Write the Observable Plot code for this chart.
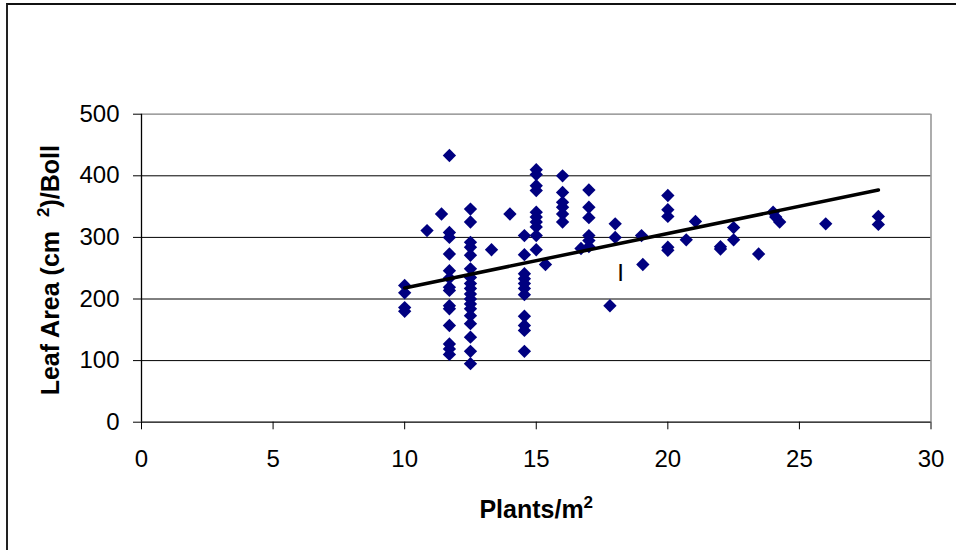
<!DOCTYPE html>
<html>
<head>
<meta charset="utf-8">
<script src="https://cdn.jsdelivr.net/npm/d3@7"></script>
<script src="https://cdn.jsdelivr.net/npm/@observablehq/plot@0.6"></script>
<style>
  html, body { margin: 0; padding: 0; background: #fff; }
  #wrap { position: relative; width: 956px; height: 550px; overflow: hidden; }
  #frame { position: absolute; left: 6px; top: 3px; width: 1000px; height: 600px;
           border-top: 2px solid #111; border-left: 2px solid #222; pointer-events: none; }
</style>
</head>
<body>
<div id="wrap"><div id="frame"></div></div>
<script>
// Plant density (plants/m²) for each observation
const plantDensity = [
  10, 10, 10, 10,
  10.85,
  11.4,
  11.7, 11.7, 11.7, 11.7, 11.7, 11.7, 11.7, 11.7, 11.7, 11.7, 11.7, 11.7, 11.7, 11.7,
  12.5, 12.5, 12.5, 12.5, 12.5, 12.5, 12.5, 12.5, 12.5, 12.5, 12.5, 12.5, 12.5, 12.5, 12.5, 12.5, 12.5, 12.5,
  13.3,
  14.0,
  14.55, 14.55, 14.55, 14.55, 14.55, 14.55, 14.55, 14.55, 14.55, 14.55, 14.55,
  15, 15, 15, 15, 15, 15, 15, 15, 15, 15,
  15.35,
  16, 16, 16, 16, 16, 16,
  16.7,
  17, 17, 17, 17, 17, 17,
  17.8,
  18, 18,
  19.0,
  19.05,
  20, 20, 20, 20, 20,
  20.7,
  21.05,
  22, 22,
  22.5, 22.5,
  23.45,
  24.0,
  24.1,
  24.25,
  26,
  28, 28
];
// Leaf area per boll (cm²) for each observation
const leafArea = [
  222, 210, 186, 180,
  311,
  338,
  433, 308, 300, 273, 246, 234, 219, 214, 189, 184, 157, 127, 119, 110,
  346, 325, 292, 284, 271, 249, 235, 225, 217, 208, 200, 192, 184, 173, 160, 138, 115, 95,
  280,
  338,
  303, 272, 241, 233, 225, 217, 207, 172, 157, 149, 115,
  410, 402, 384, 376, 341, 333, 325, 317, 303, 280,
  256,
  400, 373, 357, 349, 338, 325,
  282,
  377, 349, 332, 303, 295, 285,
  189,
  322, 300,
  303,
  256,
  368, 345, 334, 284, 279,
  296,
  326,
  285, 281,
  316, 296,
  273,
  341,
  333,
  325,
  322,
  334, 321
];
// Linear trendline endpoints
const trendX = [10, 28];
const trendY = [218, 377];
// Stray annotation in the plot area
const noteX = [18.2];
const noteY = [230];
const noteText = ["I"];
// Axis ticks
const xTicks = [0, 5, 10, 15, 20, 25, 30];
const yTicks = [0, 100, 200, 300, 400, 500];
const gridBlack = [100, 200, 300, 400];
const gridGray = [500];
// Axis titles: [before superscript, superscript, after superscript]
const xTitleParts = ["Plants/m", "2", ""];
const yTitleParts = ["Leaf Area (cm  ", "2", ")/Boll"];

const points = plantDensity.map((x, i) => ({x, y: leafArea[i]}));
const trend = trendX.map((x, i) => ({x, y: trendY[i]}));
const notes = noteX.map((x, i) => ({x, y: noteY[i], t: noteText[i]}));

const font = "'Liberation Sans', Arial, Helvetica, sans-serif";

const chart = Plot.plot({
  width: 956,
  height: 550,
  marginLeft: 141,
  marginRight: 25.5,
  marginTop: 113.7,
  marginBottom: 128.3,
  style: {fontFamily: font, color: "#000", background: "transparent", overflow: "visible"},
  x: {domain: [0, 30]},
  y: {domain: [0, 500]},
  marks: [
    Plot.ruleY(gridBlack, {stroke: "#000", strokeWidth: 1}),
    Plot.ruleY(gridGray, {stroke: "#808080", strokeWidth: 1.3}),
    Plot.ruleX([30], {stroke: "#808080", strokeWidth: 1.3}),
    Plot.ruleX([0], {stroke: "#000", strokeWidth: 1.3}),
    Plot.ruleY([0], {stroke: "#000", strokeWidth: 1.3}),
    Plot.axisY({ticks: yTicks, tickSize: 8, tickPadding: 14, fontSize: 24, label: null, tickFormat: d => String(d), stroke: "#000"}),
    Plot.axisX({ticks: xTicks, tickSize: 7.6, tickPadding: 20.5, fontSize: 24, label: null, tickFormat: d => String(d), stroke: "#000"}),
    Plot.dot(points, {x: "x", y: "y", symbol: "diamond2", r: 6, fill: "#000080", stroke: "none"}),
    Plot.line(trend, {x: "x", y: "y", stroke: "#000", strokeWidth: 3.5}),
    Plot.text(notes, {x: "x", y: "y", text: "t", fontSize: 24, lineAnchor: "bottom", textAnchor: "middle", fill: "#000"}),
    Plot.text([xTitleParts.join("")], {frameAnchor: "bottom", text: d => d, dy: 95.5, lineAnchor: "bottom", fontSize: 25, fontWeight: "bold", fill: "#000", className: "xtitle"}),
    Plot.text([yTitleParts.join("")], {frameAnchor: "left", text: d => d, dx: -83, dy: 2, rotate: -90, lineAnchor: "bottom", textAnchor: "middle", fontSize: 25, fontWeight: "bold", fill: "#000", className: "ytitle"})
  ]
});

// Render the superscript "2" in the axis titles as a raised, smaller tspan
function superscript(sel, parts) {
  sel.each(function() {
    const t = d3.select(this);
    t.text(null).attr("xml:space", "preserve").style("white-space", "pre");
    t.append("tspan").text(parts[0]);
    t.append("tspan").attr("dy", -10).attr("font-size", 17).text(parts[1]);
    if (parts[2]) t.append("tspan").attr("dy", 10).text(parts[2]);
  });
}
superscript(d3.select(chart).selectAll(".xtitle text"), xTitleParts);
superscript(d3.select(chart).selectAll(".ytitle text"), yTitleParts);

document.getElementById("wrap").prepend(chart);
</script>
</body>
</html>
